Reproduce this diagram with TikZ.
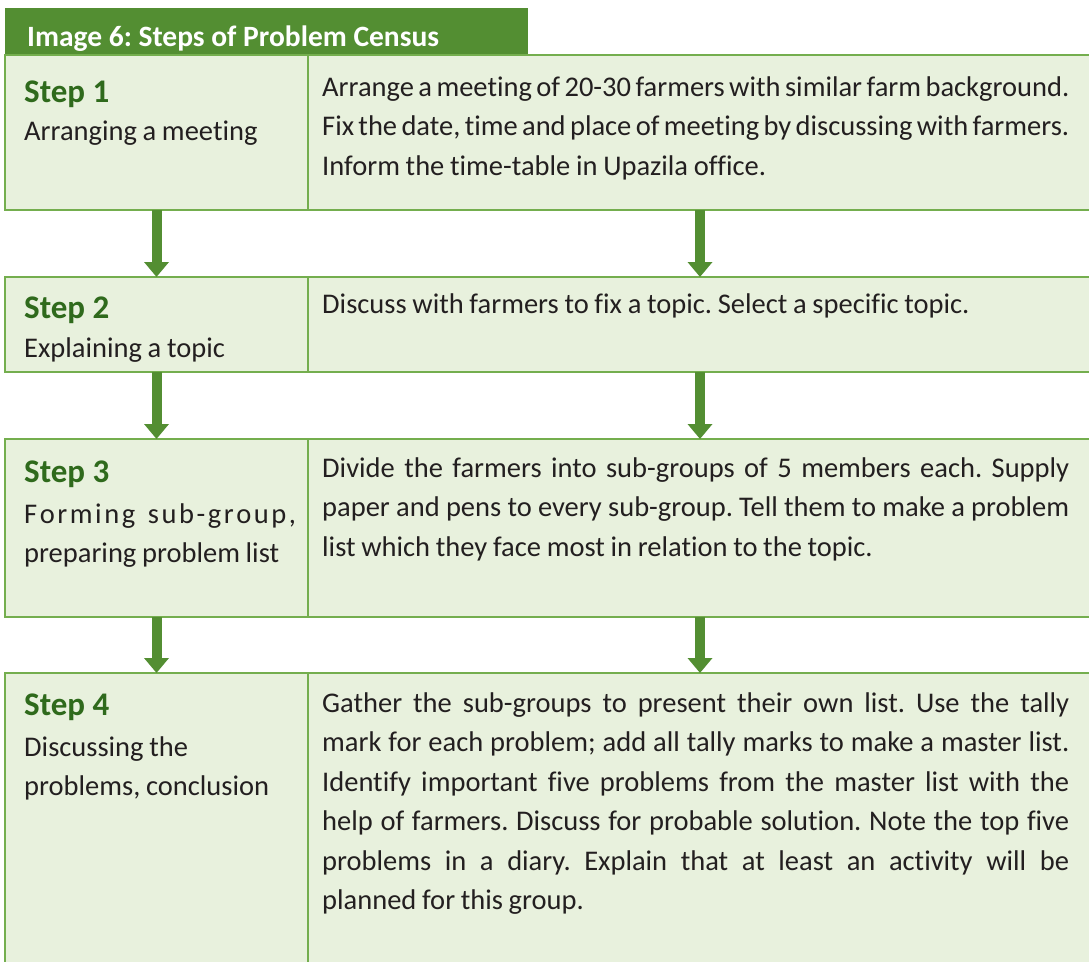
\documentclass[tikz,border=0pt]{standalone}
\usepackage{fontspec}
\setmainfont{Carlito}[Ligatures={NoCommon,NoContextual,NoRequired}]
\usetikzlibrary{arrows.meta}

\definecolor{hdrgreen}{HTML}{538E32}
\definecolor{cellfill}{HTML}{E8F1DD}
\definecolor{cellline}{HTML}{74AE4E}
\definecolor{steptext}{HTML}{2F6A1C}
\definecolor{bodytext}{HTML}{231F20}

% one justified line of the given width
\newcommand{\jline}[1]{\makebox[\linewidth][s]{#1}}
% a paragraph box whose baseline is its first line
\newcommand{\textblock}[2]{\parbox[t]{#1}{\spaceskip=0.2em plus 1em minus 0.1em\relax #2}}

\tikzset{
  cell/.style={draw=cellline, line width=1.4pt, fill=cellfill, anchor=north west,
    inner sep=0pt, outer sep=0pt},
  header/.style={fill=hdrgreen, anchor=north west, inner sep=0pt, outer sep=0pt},
  headtext/.style={anchor=base west, inner sep=0pt, text=white,
    font=\fontsize{29.5}{34}\selectfont\bfseries},
  steplabel/.style={anchor=base west, inner sep=0pt, text=steptext,
    font=\fontsize{33}{38}\selectfont\bfseries},
  body/.style={anchor=base west, inner sep=0pt, text=bodytext,
    font=\fontsize{28.5}{39.5}\selectfont},
  flow/.style={draw=hdrgreen, line width=10pt,
    -{Triangle[width=24pt,length=15pt]}},
}

\begin{document}
\frenchspacing
\begin{tikzpicture}[x=1pt, y=-1pt]
\useasboundingbox (0,0) rectangle (1089,961);
\clip (0,0) rectangle (1089,961);

% title bar
\node[header, minimum width=523pt, minimum height=47pt] (hdr) at (5,8) {};
\node[headtext] (title) at (27,46) {Image 6: Steps of Problem Census};

% table rows: left cell holds the step, right cell its description
\node[cell, minimum width=303pt, minimum height=155pt] (l1) at (5,55) {};
\node[cell, minimum width=784pt, minimum height=155pt] (r1) at (308,55) {};
\node[cell, minimum width=303pt, minimum height=95pt] (l2) at (5,277) {};
\node[cell, minimum width=784pt, minimum height=95pt] (r2) at (308,277) {};
\node[cell, minimum width=303pt, minimum height=178pt] (l3) at (5,439) {};
\node[cell, minimum width=784pt, minimum height=178pt] (r3) at (308,439) {};
\node[cell, minimum width=303pt, minimum height=320pt] (l4) at (5,673) {};
\node[cell, minimum width=784pt, minimum height=320pt] (r4) at (308,673) {};

% arrows between the rows
\draw[flow] (l1.south) -- (l2.north);
\draw[flow] (r1.south) -- (r2.north);
\draw[flow] (l2.south) -- (l3.north);
\draw[flow] (r2.south) -- (r3.north);
\draw[flow] (l3.south) -- (l4.north);
\draw[flow] (r3.south) -- (r4.north);

% step 1
\node[steplabel] (s1) at (24,102) {Step 1};
\node[body] (a1) at (24,140) {\textblock{280pt}{Arranging a meeting}};
\node[body] (d1) at (322,96) {\textblock{747pt}{%
  \jline{Arrange a meeting of 20-30 farmers with similar farm background.}\\
  \jline{Fix the date, time and place of meeting by discussing with farmers.}\\
  Inform the time-table in Upazila office.}};

% step 2
\node[steplabel] (s2) at (24,318) {Step 2};
\node[body] (a2) at (24,357) {\textblock{280pt}{Explaining a topic}};
\node[body] (d2) at (322,313) {\textblock{747pt}{%
  Discuss with farmers to fix a topic. Select a specific topic.}};

% step 3
\node[steplabel] (s3) at (24,482) {Step 3};
\node[body] (a3) at (24,523) {\textblock{280pt}{%
  \makebox[272pt][s]{F\hfill o\hfill r\hfill m\hfill i\hfill n\hfill g\hspace{0pt plus 5fill}s\hfill u\hfill b\hfill -\hfill g\hfill r\hfill o\hfill u\hfill p\hfill ,}\\
  preparing problem list}};
\node[body] (d3) at (322,477) {\textblock{747pt}{%
  \jline{Divide the farmers into sub-groups of 5 members each. Supply}\\
  \jline{paper and pens to every sub-group. Tell them to make a problem}\\
  list which they face most in relation to the topic.}};

% step 4
\node[steplabel] (s4) at (24,715) {Step 4};
\node[body] (a4) at (24,756) {\textblock{280pt}{%
  Discussing the\\
  problems, conclusion}};
\node[body] (d4) at (322,712) {\textblock{747pt}{%
  \jline{Gather the sub-groups to present their own list. Use the tally}\\
  \jline{mark for each problem; add all tally marks to make a master list.}\\
  \jline{Identify important five problems from the master list with the}\\
  \jline{help of farmers. Discuss for probable solution. Note the top five}\\
  \jline{problems in a diary. Explain that at least an activity will be}\\
  planned for this group.}};
\end{tikzpicture}
\end{document}
